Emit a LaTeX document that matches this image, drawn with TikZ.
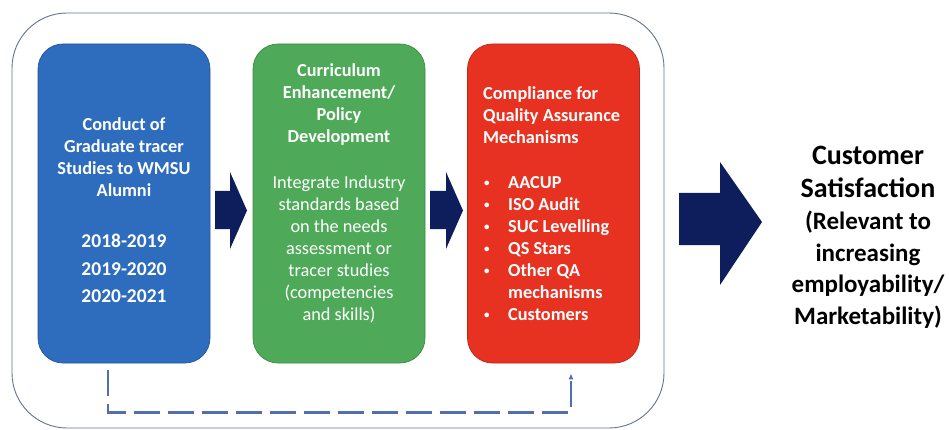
\documentclass[tikz,border=0pt]{standalone}
\usepackage{fontspec}
\setmainfont{Carlito}
\usetikzlibrary{arrows.meta}

\definecolor{tracerblue}{RGB}{46,108,190}
\definecolor{policygreen}{RGB}{78,170,88}
\definecolor{qared}{RGB}{232,50,33}
\definecolor{navy}{RGB}{14,30,92}
\definecolor{loopblue}{RGB}{82,110,176}
\definecolor{framegray}{RGB}{100,115,140}

% small list bullet
\newcommand\qabullet{\makebox[25pt][l]{\hspace{1pt}\raisebox{2.2pt}{\fontsize{11}{11}\selectfont•}}}

\begin{document}
\begin{tikzpicture}[x=1pt, y=-1pt,
  stage/.style={draw=#1!80!black, fill=#1, line width=0.7pt, rounded corners=25pt,
    minimum width=172pt, minimum height=319pt, inner sep=0pt},
  boxtext/.style={text=white, inner sep=0pt, align=center,
    font=\bfseries\fontsize{18.3}{22}\selectfont},
  feedback/.style={loopblue, line width=2.4pt, dash pattern=on 26pt off 8pt},
]
  \useasboundingbox (0,0) rectangle (949,430);

  % outer frame around the three stages
  \draw[framegray, line width=0.9pt, rounded corners=55pt] (12,13) rectangle (664,428);

  % the three stages
  \node[stage=tracerblue]  (tracer)     at (124,203.5) {};
  \node[stage=policygreen] (policy)     at (339,203.5) {};
  \node[stage=qared]       (compliance) at (553.5,203.5) {};

  % stage 1 text
  \node[boxtext, anchor=north] (tracertitle) at (124,117)
    {Conduct of\\Graduate tracer\\Studies to WMSU\\Alumni};
  \node[boxtext, anchor=north, font=\bfseries\fontsize{19.5}{27.5}\selectfont]
    (years) at (124,234) {2018-2019\\2019-2020\\2020-2021};

  % stage 2 text
  \node[boxtext, anchor=north] (policytitle) at (339,63)
    {Curriculum\\Enhancement/\\Policy\\Development};
  \node[boxtext, anchor=north, font=\fontsize{18.3}{22}\selectfont] (policybody) at (339,176)
    {Integrate Industry\\standards based\\on the needs\\assessment or\\tracer studies\\(competencies\\and skills)};

  % stage 3 text
  \node[boxtext, anchor=north west, align=left] (qatitle) at (483,86)
    {Compliance for\\Quality Assurance\\Mechanisms};
  \node[boxtext, anchor=north west, align=left] (qalist) at (483,176)
    {\qabullet AACUP\\
     \qabullet ISO Audit\\
     \qabullet SUC Levelling\\
     \qabullet QS Stars\\
     \qabullet Other QA\\
     \makebox[25pt][l]{}mechanisms\\
     \qabullet Customers};

  % block arrows between the stages
  \fill[navy] (215,191) -- (230,191) -- (230,172) -- (247,210.5)
    -- (230,249) -- (230,229) -- (215,229) -- cycle;
  \fill[navy] (430,191) -- (446,191) -- (446,172) -- (463,210.5)
    -- (446,249) -- (446,229) -- (430,229) -- cycle;
  \fill[navy] (679,193) -- (720,193) -- (720,162) -- (762,222)
    -- (720,285) -- (720,245) -- (679,245) -- cycle;

  % outcome
  \node[anchor=north, align=center, inner sep=0pt,
    font=\bfseries\fontsize{28}{33}\selectfont] (goal) at (868,146)
    {Customer\\Satisfaction};
  \node[anchor=north, align=center, inner sep=0pt,
    font=\bfseries\fontsize{25}{31.5}\selectfont] (goalnote) at (868,211)
    {(Relevant to\\increasing\\employability/\\Marketability)};

  % feedback loop under the stages
  \coordinate (fbend) at ([xshift=17.5pt,yshift=-10pt]compliance.south);
  \draw[feedback, -{Latex[length=6pt,width=5pt]}]
    ([xshift=-16pt,yshift=-7pt]tracer.south) -- ++(0,42) -| (fbend);
\end{tikzpicture}
\end{document}
